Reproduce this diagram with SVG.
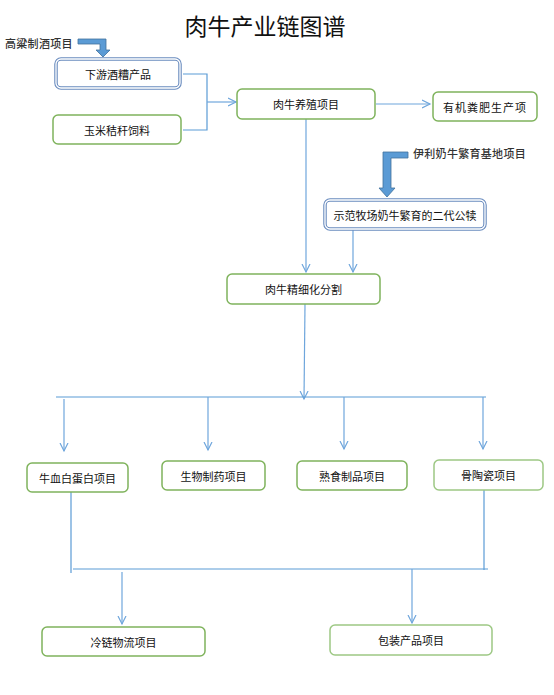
<svg xmlns="http://www.w3.org/2000/svg" width="554" height="695" viewBox="0 0 554 695">
<style>
text{font-family:"Noto Sans CJK SC","Noto Sans",sans-serif;fill:#111;}
.t{font-size:11px;text-anchor:middle;dominant-baseline:central;}
.lbl{font-size:11px;font-weight:500;fill:#333;dominant-baseline:central;letter-spacing:0.3px;}
.title{font-size:23px;text-anchor:middle;dominant-baseline:central;}
.g{fill:#fff;stroke:#7fb35c;stroke-width:1.5;}
.gl{fill:#fff;stroke:#9dc884;stroke-width:1.5;}
.bo{fill:#fff;stroke:#6a8cbf;stroke-width:3.5;}
.bi{fill:none;stroke:#fff;stroke-width:1.3;}
.c{fill:none;stroke:#5b9bd5;stroke-width:1.2;}
.ca{fill:none;stroke:#6fa6dc;stroke-width:1.2;marker-end:url(#ah);}
.fat{fill:#5b9bd5;stroke:#41719c;stroke-width:0.8;}
</style>
<defs>
<marker id="ah" markerUnits="userSpaceOnUse" markerWidth="12" markerHeight="12" refX="8" refY="5" orient="auto">
<path d="M0,1 L8,5 L0,9" fill="none" stroke="#6fa6dc" stroke-width="1.2"/>
</marker>
</defs>
<text class="title" x="265" y="25">肉牛产业链图谱</text>
<g id="connectors">
<polyline class="c" points="183,74 207,74 207,130 183,130"/>
<line class="ca" x1="207" y1="102" x2="236" y2="102"/>
<line class="ca" x1="376" y1="104" x2="430" y2="104"/>
<line class="ca" x1="306" y1="119" x2="306" y2="272"/>
<line class="ca" x1="353" y1="229" x2="353" y2="272"/>
<line class="ca" x1="305" y1="304" x2="304" y2="399"/>
<line class="c" x1="56" y1="397" x2="486" y2="397"/>
<line class="ca" x1="64" y1="399" x2="64" y2="451"/>
<line class="ca" x1="208" y1="397" x2="208" y2="450"/>
<line class="ca" x1="344" y1="397" x2="344" y2="449"/>
<line class="ca" x1="483" y1="397" x2="483" y2="449"/>
<line class="c" x1="71" y1="492" x2="71" y2="573"/>
<line class="c" x1="484" y1="490" x2="484" y2="570"/>
<line class="c" x1="73" y1="569" x2="488" y2="569"/>
<line class="ca" x1="122" y1="572" x2="122" y2="624"/>
<line class="ca" x1="412" y1="569" x2="412" y2="623"/>
<polygon class="fat" points="78,39 106,39 106,50 110,50 103,57 96,50 100,50 100,44 78,44"/>
<polygon class="fat" points="383,152 408,152 408,158 391,158 391,188 395,188 387,197 379,188 383,188"/>
</g>
<text class="lbl" x="5" y="43">高粱制酒项目</text>
<text class="lbl" x="413" y="153">伊利奶牛繁育基地项目</text>
<g id="n1"><rect class="bo" x="56" y="59" width="124" height="29" rx="5"/><rect class="bi" x="56" y="59" width="124" height="29" rx="5"/><text class="t" x="118" y="73.5">下游酒糟产品</text></g>
<g id="n2"><rect class="g" x="53" y="115" width="128" height="29" rx="5"/><text class="t" x="117" y="129.5">玉米秸秆饲料</text></g>
<g id="n3"><rect class="g" x="237" y="89" width="138" height="30" rx="5"/><text class="t" x="306" y="104">肉牛养殖项目</text></g>
<g id="n4"><rect class="g" x="433" y="92" width="104" height="29" rx="5"/><text class="t" x="485" y="106.5" letter-spacing="1">有机粪肥生产项</text></g>
<g id="n5"><rect class="bo" x="325" y="200" width="160" height="29" rx="5"/><rect class="bi" x="325" y="200" width="160" height="29" rx="5"/><text class="t" x="405" y="214.5">示范牧场奶牛繁育的二代公犊</text></g>
<g id="n6"><rect class="g" x="227" y="274" width="153" height="30" rx="5"/><text class="t" x="303.5" y="289">肉牛精细化分割</text></g>
<g id="n7"><rect class="g" x="27" y="463" width="101" height="29" rx="5"/><text class="t" x="77.5" y="477.5">牛血白蛋白项目</text></g>
<g id="n8"><rect class="g" x="162" y="461" width="103" height="29" rx="5"/><text class="t" x="213.5" y="475.5">生物制药项目</text></g>
<g id="n9"><rect class="g" x="297" y="461" width="110" height="29" rx="5"/><text class="t" x="352" y="475.5">熟食制品项目</text></g>
<g id="n10"><rect class="gl" x="434" y="460" width="109" height="30" rx="5"/><text class="t" x="488.5" y="475">骨陶瓷项目</text></g>
<g id="n11"><rect class="g" x="42" y="627" width="163" height="29" rx="5"/><text class="t" x="123.5" y="641.5">冷链物流项目</text></g>
<g id="n12"><rect class="gl" x="330" y="625" width="162" height="30" rx="5"/><text class="t" x="411" y="640">包装产品项目</text></g>
</svg>
